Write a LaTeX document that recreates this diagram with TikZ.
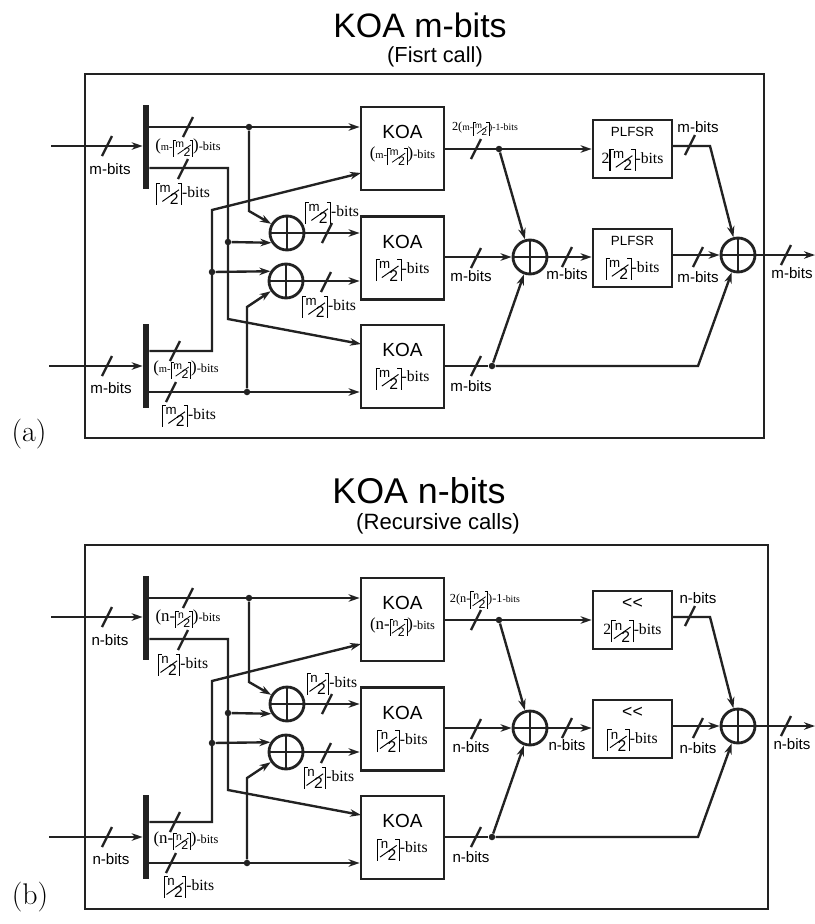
\documentclass[tikz,border=0pt]{standalone}
\usepackage{fontspec}
\usepackage{xcolor}
\newfontfamily\labfont{Liberation Serif}
\setsansfont{Liberation Sans}
\usetikzlibrary{calc,arrows.meta,positioning}
\definecolor{WireDark}{RGB}{34, 34, 34}
\newcommand{\ceilhalf}[1]{\mbox{\rule[-.5em]{.07em}{1.4em}\kern-.07em\rule[.83em]{.28em}{.07em}\kern-.05em\raisebox{.28em}{\sffamily\scalebox{.85}{#1}}\kern-.55em\raisebox{-.3em}{\rotatebox{35}{\rule{1.3em}{.06em}}}\kern-.6em\raisebox{-.5em}{\sffamily 2}\kern-.05em\rule[.83em]{.28em}{.07em}\kern-.07em\rule[-.5em]{.07em}{1.4em}}}
\newcommand{\sansfs}[1]{\sffamily\fontsize{#1}{#1}\selectfont}
\newcommand{\seriffs}[1]{\labfont\fontsize{#1}{#1}\selectfont}
\newcommand{\difflab}[2]{{\seriffs{9.6pt}(}{\seriffs{#1}#2-}\ceilhalf{#2}{\seriffs{9.6pt})}-bits}

\begin{document}
\begin{tikzpicture}[x=0.02cm, y=-0.02cm, >={Stealth[length=2.2mm,width=1.5mm,inset=0.7mm]},
  frm/.style={draw=WireDark, line width=1.5pt},
  koa/.style={draw=WireDark, line width=1.6pt, minimum width=1.66cm, minimum height=1.66cm,
              align=center, inner sep=0pt, font=\sansfs{10.8pt}},
  shf/.style={draw=WireDark, line width=1.6pt, minimum width=1.58cm, minimum height=1.16cm,
              align=center, inner sep=0pt, font=\sansfs{7.6pt}},
  spl/.style={fill=WireDark, minimum width=1.2mm, minimum height=1.68cm, inner sep=0pt},
  xorc/.style={draw=WireDark, line width=1.6pt, circle, minimum size=6.8mm, inner sep=0pt,
               path picture={\draw[line width=1.6pt, WireDark]
                 (path picture bounding box.north) -- (path picture bounding box.south)
                 (path picture bounding box.west) -- (path picture bounding box.east);}},
  jct/.style={fill=WireDark, circle, minimum size=1.3mm, inner sep=0pt},
  sig/.style={->, draw=WireDark, line width=1.35pt},
  wir/.style={draw=WireDark, line width=1.35pt},
  tck/.style={draw=WireDark, line width=1.35pt},
  bit/.style={font=\sansfs{8.6pt}, inner sep=0pt},
  lab/.style={font=\seriffs{8.9pt}, inner sep=0pt},
  lsm/.style={font=\seriffs{7pt}, inner sep=0pt},
  ltn/.style={font=\seriffs{5.6pt}, inner sep=0pt},
  box/.style={inner sep=0pt, align=center}]

  \useasboundingbox (0,0) rectangle (815,924);

  \node[box, font=\sansfs{19.3pt}] (ttla) at (420,25) {KOA m-bits};
  \node[box, font=\sansfs{12.4pt}] (suba) at (435,57) {(Fisrt call)};
  \node[box, font=\sansfs{20.4pt}] (ttlb) at (419,491) {KOA n-bits};
  \node[box, font=\sansfs{12.6pt}] (subb) at (438,524) {(Recursive calls)};
  \node[box, font=\rmfamily\fontsize{17pt}{17pt}\selectfont] (capa) at (29,434) {(a)};
  \node[box, font=\rmfamily\fontsize{17pt}{17pt}\selectfont] (capb) at (30,897) {(b)};

  % same drawing twice, second one moved down
  \foreach \dy/\v/\w/\ws/\kind/\xr in {0/m/{\fontsize{5.5pt}{6pt}\selectfont m}/6pt/PLFSR/764, 471/n/n/9.6pt/{\sansfs{10pt}<{}<}/768} {
  \begin{scope}[shift={(0,\dy)}]
    \draw[frm] (85,74) rectangle (\xr,438);

    \node[spl] (sp1) at (146,147) {};
    \node[spl] (sp2) at (146,366) {};
    \node[koa] (koa1) at (402.5,148.5) {};
    \node[box, font=\sansfs{10.8pt}] (koa1t) at (402.5,145) {KOA\\[1pt]{\seriffs{7pt}\difflab{\ws}{\v}}};
    \node[koa] (koa2) at (402.5,258) {KOA\\[3.5pt]{\seriffs{8.9pt}\ceilhalf{\v}-bits}};
    \node[koa] (koa3) at (402.5,366.5) {KOA\\[3.5pt]{\seriffs{8.9pt}\ceilhalf{\v}-bits}};
    \node[shf] (shf1) at (632.5,149) {\kind\\[6pt]{\seriffs{8.9pt}2\ceilhalf{\v}-bits}};
    \node[shf] (shf2) at (632.5,258) {\kind\\[6pt]{\seriffs{8.9pt}\ceilhalf{\v}-bits}};
    \node[xorc] (x1) at (287,233) {};
    \node[xorc] (x2) at (286,281) {};
    \node[xorc] (x3) at (530,257) {};
    \node[xorc] (x4) at (738,255) {};

    \node[jct] (j1) at (249,127) {};
    \node[jct] (j2) at (228,242) {};
    \node[jct] (j3) at (212,272) {};
    \node[jct] (j4) at (247,392) {};
    \node[jct] (j5) at (499,149) {};
    \node[jct] (j6) at (492,366) {};

    \coordinate (in1) at (51,146);
    \coordinate (in2) at (49,366);
    \coordinate (out) at (815,255);
    \coordinate (b1) at (228,168);
    \coordinate (b2) at (228,319);
    \coordinate (b3) at (361,344);
    \coordinate (c1) at (212,351);
    \coordinate (c2) at (212,210);
    \coordinate (c3) at (361,173);
    \coordinate (d1) at (249,211);
    \coordinate (d2) at (247,307);
    \coordinate (e1) at (698,366);
    \coordinate (e2) at (672,146);
    \coordinate (e3) at (710,146);

    \draw[sig] (in1) -- (in1 -| sp1.west);
    \draw[sig] (in2) -- (in2 -| sp2.west);
    \draw[sig] (sp1.east |- j1) -- (koa1.west |- j1);
    \draw[sig] (sp1.east |- b1) -- (b1) -- (b2) -- (b3);
    \draw[sig] (sp2.east |- c1) -- (c1) -- (c2) -- (c3);
    \draw[sig] (sp2.east |- j4) -- (koa3.west |- j4);
    \draw[sig] (j1) -- (d1) -- (x1);
    \draw[sig] (j4) -- (d2) -- (x2);
    \draw[sig] (j2) -- (x1.212);
    \draw[sig] (j3) -- (x2.148);
    \draw[sig] (x1) -- (koa2.west |- x1);
    \draw[sig] (x2) -- (koa2.west |- x2);
    \draw[sig] (koa1.east |- j5) -- (shf1.west |- j5);
    \draw[sig] (j5) -- (x3);
    \draw[sig] (koa2.east |- x3) -- (x3);
    \draw[sig] (x3) -- (shf2.west |- x3);
    \draw[wir] (koa3.east |- j6) -- (j6);
    \draw[sig] (j6) -- (x3);
    \draw[sig] (j6) -- (e1) -- (x4);
    \draw[sig] (e2) -- (e3) -- (x4);
    \draw[sig] (shf2.east |- x4) -- (x4);
    \draw[sig] (x4) -- (out);

    \foreach \tx/\ty in {107/146,107/366,188/127,183/169,175/351,171/392,327/233,326/282,
                         476/149,476/258,476/366,567/257,690/145,698/257,786/255}
      \draw[tck] (\tx,\ty)+(-5,10) -- +(5,-10);

    \node[bit] (l1) at (110,169) {\v-bits};
    \node[bit] (l2) at (111,388) {\v-bits};
    \node[bit] (l3) at (471,276) {\v-bits};
    \node[bit] (l4) at (471,386) {\v-bits};
    \node[bit] (l5) at (567,274) {\v-bits};
    \node[bit] (l6) at (698,127) {\v-bits};
    \node[bit] (l7) at (698,277) {\v-bits};
    \node[bit] (l8) at (792,273) {\v-bits};
    \node[lsm] (l9) at (188,148) {\difflab{\ws}{\v}};
    \node[lsm] (l10) at (186,370) {\difflab{\ws}{\v}};
    \node[lab] (l11) at (183,194) {\ceilhalf{\v}-bits};
    \node[lab] (l12) at (189,416) {\ceilhalf{\v}-bits};
    \node[lab] (l13) at (332,213) {\ceilhalf{\v}-bits};
    \node[lab] (l14) at (329,307) {\ceilhalf{\v}-bits};
    \node[ltn] (l15) at (485,129) {\fontsize{7pt}{7pt}\selectfont 2(\w-\ceilhalf{\v})-1{\fontsize{5.6pt}{6pt}\selectfont -bits}};
  \end{scope}
  }
\end{tikzpicture}
\end{document}
